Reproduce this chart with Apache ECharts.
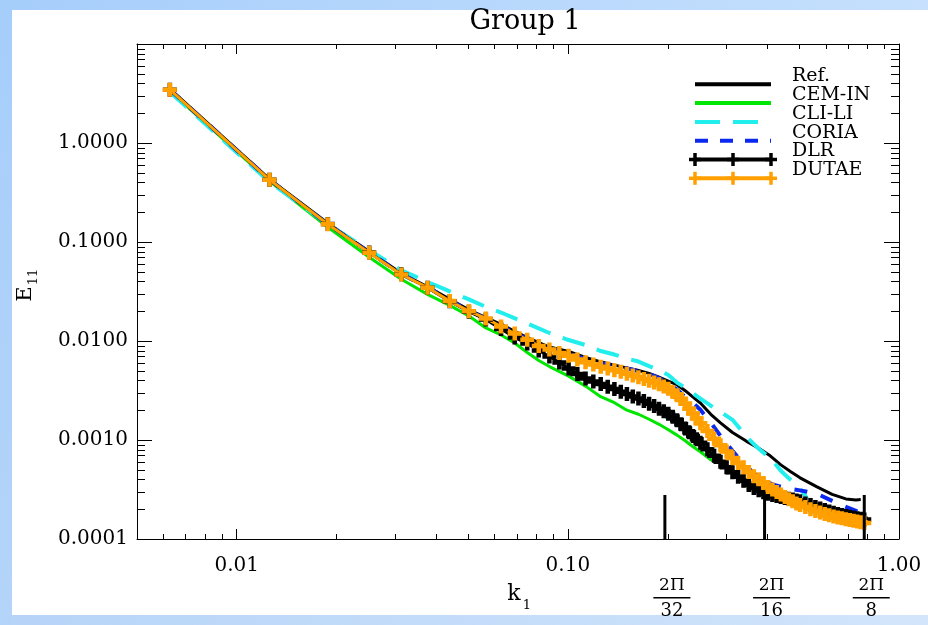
<!DOCTYPE html>
<html><head><meta charset="utf-8">
<script src="https://cdn.jsdelivr.net/npm/echarts/dist/echarts.min.js"></script>
<style>html,body{margin:0;padding:0;background:#fff;}#c{width:928px;height:625px;}</style>
</head><body><div id="c"></div>
<script>
// ---------------- data ----------------
const DK = 2 * Math.PI / 1000;              // wavenumber step: k = n * DK
const seriesNames = ['Ref.', 'CEM-IN', 'CLI-LI', 'CORIA', 'DLR', 'DUTAE'];

// DLR & DUTAE (plotted with + markers)
const nMarked = [1,2,3,4,5,6,7,8,9,10,11,12,13,14,15,16,17,18,19,20,21,22,23,24,25,26,27,28,29,30,31,32,33,34,35,36,37,38,39,40,
  42,44,46,48,50,52,54,56,58,60,62,64,66,68,70,72,74,76,78,80,
  83,86,89,92,95,98,101,104,107,110,113,116,119,122,125];
const dutaeVals = [3.46,0.425,0.151,0.078,0.047,0.0346,0.0253,0.0200,0.0169,0.0140,0.0119,0.0103,
  0.0089,0.0082,0.00755,0.00708,0.0065,0.0061,0.00578,0.0055,
  0.00527,0.00507,0.00488,0.00468,0.00449,0.00431,0.00413,0.00396,0.0038,0.00365,
  0.00347,0.00329,0.00306,0.00283,0.0026,0.00234,0.00207,0.00185,0.00165,0.00148,
  0.00123,0.00103,0.000887,0.000767,0.000659,0.000587,0.00053,0.000475,0.000431,0.000401,
  0.000367,0.000336,0.000317,0.000299,0.000282,0.000266,0.000252,0.00024,0.000228,0.000221,
  0.000211,0.0002,0.000192,0.000185,0.000179,0.000174,0.000169,0.000165,0.000162,0.000158,
  0.000156,0.000153,0.00015,0.000148,0.000145];
const dlrVals = [3.46,0.425,0.152,0.0785,0.0472,0.0345,0.0252,0.0198,0.01651,0.01324,0.01084,0.00944,
  0.00801,0.00697,0.00606,0.00527,0.00464,0.00417,0.00389,0.00367,
  0.00346,0.00327,0.00308,0.00291,0.00275,0.00262,0.00247,0.00233,0.0022,0.00207,
  0.00195,0.00184,0.00172,0.00158,0.00144,0.00131,0.0012,0.0011,0.00102,0.000938,
  0.000806,0.000693,0.000603,0.00053,0.000471,0.000425,0.000387,0.000352,0.000328,0.00031,
  0.000296,0.000286,0.000279,0.000272,0.000266,0.00026,0.000255,0.00025,0.000245,0.00024,
  0.000229,0.00022,0.000211,0.000203,0.000196,0.00019,0.000184,0.000179,0.000175,0.000171,
  0.000168,0.000165,0.000162,0.00016,0.000157];

// Ref.
const nRef = [1,2,3,4,5,6,8,10,12,14,16,18,20,22,24,26,28,30,32,34,36,38,40,43,46,50,55,60,65,70,75,80,90,100,110,118,122];
const refVals = [3.52,0.432,0.155,0.0797,0.0483,0.0352,0.0206,0.01469,0.01084,0.00869,0.00783,0.00681,0.00616,0.00571,
  0.00535,0.00503,0.00471,0.00431,0.00394,0.00362,0.00315,0.00271,0.00236,0.00182,0.00149,0.00119,0.000975,0.000824,
  0.000693,0.000561,0.000477,0.000415,0.000336,0.000282,0.000254,0.000248,0.00025];

// CEM-IN
const nCem = [1,2,3,4,5,6,7,8,9,10,11,12,13,14,16,18,20,22,24,26,28,30,32,34,36,38,40,43,44];
const cemVals = [3.36,0.412,0.141,0.0701,0.042,0.0296,0.0229,0.0179,0.01354,0.0115,0.00955,0.00765,0.00635,0.00552,
  0.00442,0.0035,0.00274,0.00238,0.002,0.00182,0.00162,0.00144,0.00127,0.00112,0.000982,0.000855,0.00076,0.000631,0.000603];

// CLI-LI
const nCli = [1,2,3,4,5,6,7,8,9,10,12,14,16,18,20,22,24,26,28,30,32,34,36,38,40,43,46,50,53,56,60,64,67,70,74,78,82,84];
const cliVals = [3.28,0.403,0.151,0.0825,0.0518,0.0396,0.0317,0.0263,0.0221,0.0194,
  0.01503,0.01205,0.01023,0.0091,0.00792,0.0073,0.00665,0.0062,0.00558,0.00508,0.00453,0.0038,0.00338,0.00297,0.00262,
  0.00222,0.00193,0.0016,0.00127,0.00102,0.000815,0.000685,0.000584,0.000489,0.00041,0.000352,0.000292,0.000254];

// CORIA
const nCor = [1,2,3,4,5,6,8,10,12,14,16,18,20,22,24,26,28,30,32,34,36,38,40,43,46,50,54,58,62,66,72,80,90,100,110,118,122];
const corVals = [3.46,0.425,0.151,0.079,0.0475,0.0348,
  0.0202,0.0142,0.0105,0.0084,0.00747,0.00657,0.00599,0.00558,0.00527,0.00497,0.00464,0.00422,0.00376,0.00323,0.00271,0.00236,0.00202,
  0.0015,0.0011,0.000778,0.000574,0.000461,0.000391,0.000356,0.000328,0.00031,0.000286,0.000243,0.000211,0.000192,0.000183];

// reference wavenumbers 2π/32, 2π/16, 2π/8
const markDen = [32, 16, 8];
const markK = markDen.map(d => 2 * Math.PI / d);

// axis ranges and ticks
const X_MIN = 0.005, X_MAX = 1.0;
const Y_MIN = 0.0001, Y_MAX = 10;
const xMinorTicks = [0.006,0.007,0.008,0.009,0.02,0.03,0.04,0.05,0.06,0.07,0.08,0.09,0.2,0.3,0.4,0.5,0.6,0.7,0.8,0.9];
const yMinorTicks = [0.0002,0.0003,0.0004,0.0005,0.0006,0.0007,0.0008,0.0009,
  0.002,0.003,0.004,0.005,0.006,0.007,0.008,0.009,
  0.02,0.03,0.04,0.05,0.06,0.07,0.08,0.09,
  0.2,0.3,0.4,0.5,0.6,0.7,0.8,0.9,
  2,3,4,5,6,7,8,9];

// ---------------- chart ----------------
const SERIF = '"DejaVu Serif", "Liberation Serif", serif';
const colors = ['#000000', '#00e600', '#22eeee', '#0a28f0', '#000000', '#ffa000'];
const PLUS = 'path://M4.75,0h4.5v14h-4.5zM0,4.75h14v4.5h-14z';
const toPts = (ns, vs) => ns.map((n, i) => [n * DK, vs[i]]);

const chart = echarts.init(document.getElementById('c'), null, {renderer: 'canvas', width: 928, height: 625});

function xMinorRender(params, api) {
  const cs = params.coordSys;
  const x = Math.round(api.coord([api.value(0), 1])[0]) + 0.5;
  const b = cs.y + cs.height, t = cs.y;
  return {type: 'group', children: [
    {type: 'line', shape: {x1: x, y1: b, x2: x, y2: b - 5}, style: {stroke: '#000', lineWidth: 1}},
    {type: 'line', shape: {x1: x, y1: t, x2: x, y2: t + 5}, style: {stroke: '#000', lineWidth: 1}}
  ]};
}
function yMinorRender(params, api) {
  const cs = params.coordSys;
  const y = Math.round(api.coord([0.1, api.value(1)])[1]) + 0.5;
  const l = cs.x, r = cs.x + cs.width;
  return {type: 'group', children: [
    {type: 'line', shape: {x1: l, y1: y, x2: l + 8, y2: y}, style: {stroke: '#000', lineWidth: 1}},
    {type: 'line', shape: {x1: r, y1: y, x2: r - 8, y2: y}, style: {stroke: '#000', lineWidth: 1}}
  ]};
}
function markRender(params, api) {
  const cs = params.coordSys;
  const x = api.coord([api.value(0), Y_MIN])[0];
  const b = cs.y + cs.height;
  const cx = x + 7;
  return {type: 'group', children: [
    {type: 'line', shape: {x1: x, y1: b, x2: x, y2: b - 44}, style: {stroke: '#000', lineWidth: 3}},
    {type: 'text', style: {text: '2\u03A0', x: cx, y: 586, align: 'center', verticalAlign: 'middle',
      fontSize: 17, fontFamily: SERIF, fill: '#000'}},
    {type: 'rect', shape: {x: cx - 18.5, y: 597, width: 37, height: 1.6}, style: {fill: '#000'}},
    {type: 'text', style: {text: String(markDen[params.dataIndex]), x: cx, y: 611, align: 'center', verticalAlign: 'middle',
      fontSize: 18, fontFamily: SERIF, fill: '#000'}}
  ]};
}

const axisCommon = {
  type: 'log', logBase: 10, splitLine: {show: false},
  axisLine: {show: true, onZero: false, lineStyle: {color: '#000', width: 1}},
  axisTick: {show: true, inside: true, lineStyle: {color: '#000', width: 1}},
  minorTick: {show: false}, minorSplitLine: {show: false}
};

// legend drawn as graphic (samples + labels)
const legendEls = [];
const LX0 = 695, LX1 = 771, LY0 = 84.3, LDY = 18.8;
seriesNames.forEach((name, i) => {
  const y = LY0 + i * LDY;
  const ls = {stroke: colors[i], lineWidth: 4};
  if (i === 2) ls.lineDash = [25, 13];
  if (i === 3) ls.lineDash = [13, 12];
  legendEls.push({type: 'line', shape: {x1: LX0, y1: y, x2: LX1, y2: y}, style: ls, z: 100});
  if (i >= 4) {
    [LX0, (LX0 + LX1) / 2, LX1].forEach(px => {
      legendEls.push({type: 'rect', shape: {x: px - 6, y: y - 1.75, width: 12, height: 3.5}, style: {fill: colors[i]}, z: 100});
      legendEls.push({type: 'rect', shape: {x: px - 1.75, y: y - 6.5, width: 3.5, height: 13}, style: {fill: colors[i]}, z: 100});
    });
  }
  legendEls.push({type: 'text', x: 792, y: y - 8, style: {text: name, fontSize: 19, fontFamily: SERIF, fill: '#000',
    align: 'left', verticalAlign: 'middle'}, z: 100});
});

const option = {
  animation: false,
  backgroundColor: '#ffffff',
  grid: {left: 137, right: 29, top: 44, bottom: 86, containLabel: false, outerBoundsMode: 'none'},
  xAxis: [
    Object.assign({}, axisCommon, {position: 'bottom', min: X_MIN, max: X_MAX,
      axisTick: Object.assign({}, axisCommon.axisTick, {length: 10}),
      axisLabel: {show: true, showMinLabel: false, margin: 17, fontSize: 20, fontFamily: SERIF, color: '#000',
        formatter: v => Number(v).toFixed(2)}}),
    Object.assign({}, axisCommon, {position: 'top', min: X_MIN, max: X_MAX,
      axisTick: Object.assign({}, axisCommon.axisTick, {length: 10}), axisLabel: {show: false}})
  ],
  yAxis: [
    Object.assign({}, axisCommon, {position: 'left', min: Y_MIN, max: Y_MAX,
      axisTick: Object.assign({}, axisCommon.axisTick, {length: 15}),
      axisLabel: {show: true, showMaxLabel: false, margin: 9, fontSize: 20, fontFamily: SERIF, color: '#000',
        formatter: v => Number(v).toFixed(4)}}),
    Object.assign({}, axisCommon, {position: 'right', min: Y_MIN, max: Y_MAX,
      axisTick: Object.assign({}, axisCommon.axisTick, {length: 15}), axisLabel: {show: false}})
  ],
  series: [
    {name: seriesNames[0], type: 'line', data: toPts(nRef, refVals), showSymbol: false, symbol: 'none',
      lineStyle: {color: colors[0], width: 3}, itemStyle: {color: colors[0]}},
    {name: seriesNames[1], type: 'line', data: toPts(nCem, cemVals), showSymbol: false, symbol: 'none',
      lineStyle: {color: colors[1], width: 3}, itemStyle: {color: colors[1]}},
    {name: seriesNames[2], type: 'line', data: toPts(nCli, cliVals), showSymbol: false, symbol: 'none',
      lineStyle: {color: colors[2], width: 4, type: [23, 13]}, itemStyle: {color: colors[2]}},
    {name: seriesNames[3], type: 'line', data: toPts(nCor, corVals), showSymbol: false, symbol: 'none',
      lineStyle: {color: colors[3], width: 4, type: [13, 14]}, itemStyle: {color: colors[3]}},
    {name: seriesNames[4], type: 'line', data: toPts(nMarked, dlrVals), symbol: PLUS, symbolSize: 14, showSymbol: true,
      lineStyle: {color: colors[4], width: 3}, itemStyle: {color: colors[4]}},
    {name: seriesNames[5], type: 'line', data: toPts(nMarked, dutaeVals), symbol: PLUS, symbolSize: 14, showSymbol: true,
      lineStyle: {color: colors[5], width: 3}, itemStyle: {color: colors[5]}},
    {name: 'xminor', type: 'custom', data: xMinorTicks.map(v => [v, 1]), renderItem: xMinorRender, clip: false, silent: true, z: 5},
    {name: 'yminor', type: 'custom', data: yMinorTicks.map(v => [0.1, v]), renderItem: yMinorRender, clip: false, silent: true, z: 5},
    {name: 'marks', type: 'custom', data: markK.map(k => [k, Y_MIN]), renderItem: markRender, clip: false, silent: true, z: 6}
  ],
  graphic: [
    {type: 'rect', shape: {x: 0, y: 0, width: 928, height: 10}, z: -10, silent: true,
      style: {fill: new echarts.graphic.LinearGradient(0, 0, 1, 0, [{offset: 0, color: '#a6cefb'}, {offset: 1, color: '#c6e0fd'}])}},
    {type: 'rect', shape: {x: 0, y: 615, width: 928, height: 10}, z: -10, silent: true,
      style: {fill: new echarts.graphic.LinearGradient(0, 0, 1, 0, [{offset: 0, color: '#b6d4f8'}, {offset: 1, color: '#d2e5fb'}])}},
    {type: 'rect', shape: {x: 0, y: 0, width: 12, height: 625}, z: -9, silent: true,
      style: {fill: new echarts.graphic.LinearGradient(0, 0, 0, 1, [{offset: 0, color: '#a6cefb'}, {offset: 1, color: '#b4d4f9'}])}},
    {type: 'text', x: 525, y: 22, style: {text: 'Group 1', fontSize: 27, fontFamily: SERIF, fill: '#000', align: 'center', verticalAlign: 'middle'}},
    {type: 'text', x: 514, y: 594, style: {text: 'k', fontSize: 22, fontFamily: SERIF, fill: '#000', align: 'center', verticalAlign: 'middle'}},
    {type: 'text', x: 527, y: 606, style: {text: '1', fontSize: 13, fontFamily: SERIF, fill: '#000', align: 'center', verticalAlign: 'middle'}},
    {type: 'text', x: 26, y: 294, rotation: Math.PI / 2, style: {text: 'E', fontSize: 21, fontFamily: SERIF, fill: '#000', align: 'center', verticalAlign: 'middle'}},
    {type: 'text', x: 34, y: 277, rotation: Math.PI / 2, style: {text: '11', fontSize: 13, fontFamily: SERIF, fill: '#000', align: 'center', verticalAlign: 'middle'}}
  ].concat(legendEls)
};
chart.setOption(option);
</script>
</body></html>
